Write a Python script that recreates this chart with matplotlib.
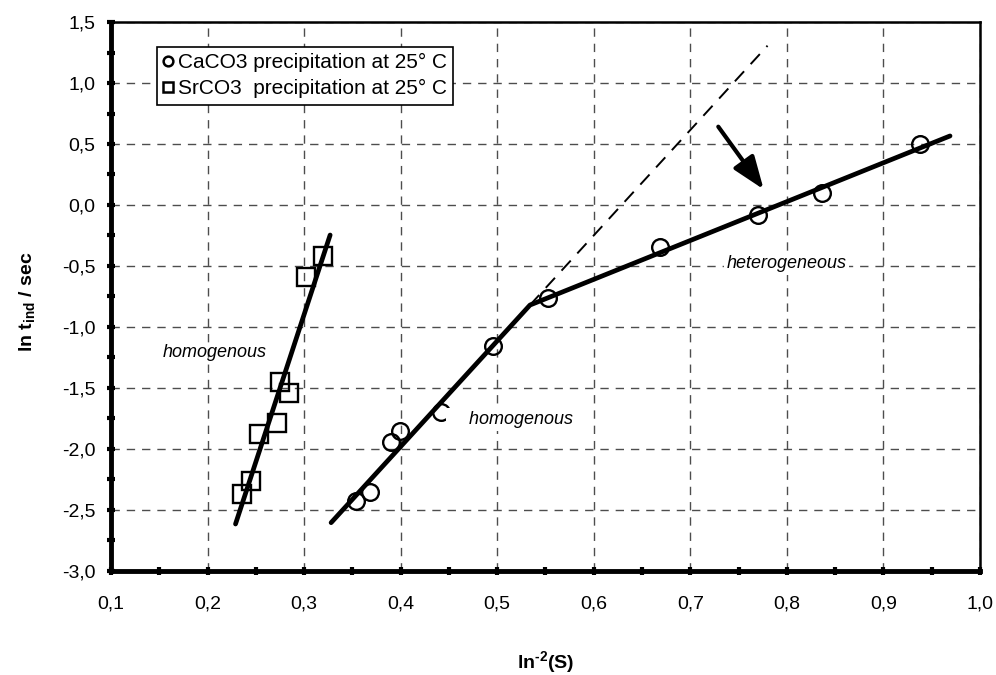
import matplotlib.pyplot as plt
from matplotlib.ticker import MultipleLocator, FuncFormatter
from matplotlib.lines import Line2D

plt.rcParams['font.family'] = ['Liberation Sans', 'DejaVu Sans']
plt.rcParams['mathtext.fontset'] = 'custom'
plt.rcParams['mathtext.rm'] = 'Liberation Sans:bold'
plt.rcParams['mathtext.bf'] = 'Liberation Sans:bold'

# SrCO3 measurements (squares)
sr_x = [0.236, 0.245, 0.253, 0.272, 0.275, 0.284, 0.302, 0.320]
sr_y = [-2.37, -2.265, -1.877, -1.789, -1.453, -1.544, -0.593, -0.415]
sr_fit_x = [0.229, 0.327]
sr_fit_y = [-2.615, -0.246]

# CaCO3 measurements (circles)
ca_x = [0.354, 0.368, 0.390, 0.399, 0.442, 0.496, 0.553, 0.669, 0.770, 0.836, 0.938]
ca_y = [-2.424, -2.355, -1.945, -1.852, -1.694, -1.153, -0.765, -0.342, -0.082, 0.096, 0.500]
ca_fit_x = [0.328, 0.534, 0.969]
ca_fit_y = [-2.604, -0.820, 0.566]
ca_extrap_x = [0.534, 0.780]
ca_extrap_y = [-0.820, 1.306]

xticks = [0.1, 0.2, 0.3, 0.4, 0.5, 0.6, 0.7, 0.8, 0.9, 1.0]
yticks = [-3.0, -2.5, -2.0, -1.5, -1.0, -0.5, 0.0, 0.5, 1.0, 1.5]

fig = plt.figure(figsize=(9.96, 6.75), dpi=100)
ax = fig.add_axes([0.1114, 0.1541, 0.8725, 0.8133])

ax.grid(True, which='major', color='0.3', linestyle=(0, (6, 5)), linewidth=1)
ax.set_axisbelow(True)

# fits
ax.plot(sr_fit_x, sr_fit_y, color='black', lw=3.4, solid_capstyle='round', zorder=6)
ax.plot(ca_fit_x, ca_fit_y, color='black', lw=3.4, solid_capstyle='round', zorder=6)
ax.plot(ca_extrap_x, ca_extrap_y, color='black', lw=1.4, linestyle=(0, (7, 5)), zorder=3)

# data
ax.plot(sr_x, sr_y, linestyle='none', marker='s', markersize=12.5, markerfacecolor='none',
        markeredgecolor='black', markeredgewidth=1.7, zorder=4)
ax.plot(ca_x, ca_y, linestyle='none', marker='o', markersize=12, markerfacecolor='none',
        markeredgecolor='black', markeredgewidth=1.7, zorder=4)

# arrow
ax.annotate('', xy=(0.776, 0.128), xytext=(0.729, 0.642),
            arrowprops=dict(arrowstyle='-|>,head_length=2.0,head_width=0.75', color='black',
                            lw=3, shrinkA=0, shrinkB=0),
            zorder=5)

# region labels
ax.text(0.154, -1.205, 'homogenous', style='italic', fontsize=13, va='center', ha='left')
ax.text(0.4497, -1.757, '    homogenous', style='italic', fontsize=13, va='center', ha='left',
        bbox=dict(boxstyle='square,pad=0.15', facecolor='white', edgecolor='none'), zorder=5)
ax.text(0.7375, -0.478, 'heterogeneous', style='italic', fontsize=13, va='center', ha='left',
        bbox=dict(boxstyle='square,pad=0.15', facecolor='white', edgecolor='none'), zorder=2)

ax.set_xlim(0.1, 1.0)
ax.set_ylim(-3.0, 1.5)
ax.set_xticks(xticks)
ax.set_yticks(yticks)
ax.xaxis.set_minor_locator(MultipleLocator(0.05))
ax.yaxis.set_minor_locator(MultipleLocator(0.25))
comma = FuncFormatter(lambda v, p: f'{v:.1f}'.replace('.', ','))
ax.xaxis.set_major_formatter(comma)
ax.yaxis.set_major_formatter(comma)

ax.tick_params(which='both', direction='inout', length=6, width=3, labelsize=14)
ax.tick_params(axis='x', which='major', pad=15)
ax.tick_params(axis='y', which='major', pad=8)

for side in ['left', 'bottom']:
    ax.spines[side].set_linewidth(3.5)
for side in ['top', 'right']:
    ax.spines[side].set_linewidth(1.8)

ax.set_xlabel(r'ln$^{\text{-}2}$(S)', fontsize=14, fontweight='bold')
ax.set_ylabel(r'ln t$_{\bf ind}$ / sec', fontsize=14, fontweight='bold')
ax.xaxis.set_label_coords(0.5, -0.142)
ax.yaxis.set_label_coords(-0.084, 0.49)

# legend
handles = [
    Line2D([], [], linestyle='none', marker='o', markersize=7, markerfacecolor='none',
           markeredgecolor='black', markeredgewidth=1.8),
    Line2D([], [], linestyle='none', marker='s', markersize=7.5, markerfacecolor='none',
           markeredgecolor='black', markeredgewidth=1.8),
]
leg = ax.legend(handles, ['CaCO3 precipitation at 25° C', 'SrCO3  precipitation at 25° C'],
                loc='upper left', bbox_to_anchor=(0.053, 0.955), fontsize=15,
                handlelength=0.5, handletextpad=0.2, borderpad=0.3, labelspacing=0.35,
                borderaxespad=0, fancybox=False, framealpha=1, edgecolor='black')
leg.get_frame().set_linewidth(1.2)
leg.set_zorder(7)

fig.savefig('out.png', dpi=100)
